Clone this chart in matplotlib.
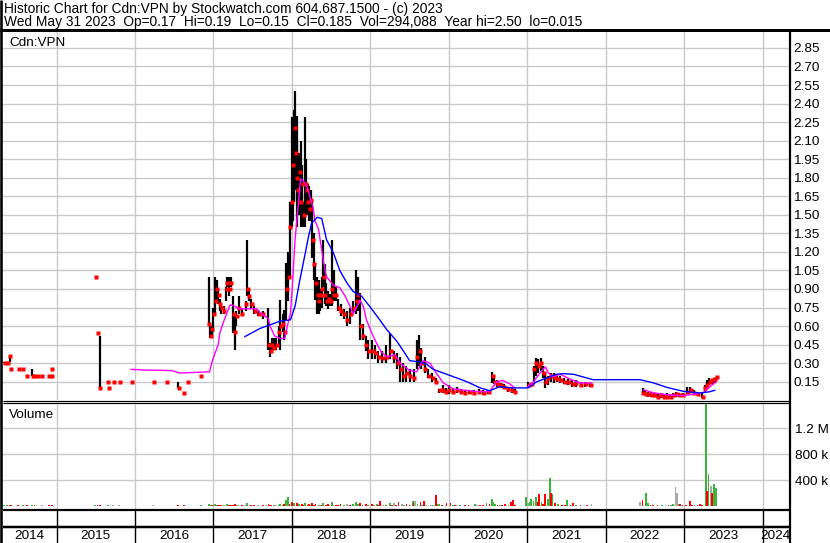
import matplotlib
matplotlib.use("Agg")
import matplotlib.pyplot as plt
from matplotlib.lines import Line2D
import numpy as np

plt.rcParams['font.family'] = ['Liberation Sans', 'DejaVu Sans']

# ---------------- data ----------------
header_line1 = "Historic Chart for Cdn:VPN by Stockwatch.com 604.687.1500 - (c) 2023"
header_line2 = ("Wed May 31 2023  Op=0.17  Hi=0.19  Lo=0.15  Cl=0.185  "
                "Vol=294,088  Year hi=2.50  lo=0.015")
symbol = "Cdn:VPN"
years = [2014, 2015, 2016, 2017, 2018, 2019, 2020, 2021, 2022, 2023, 2024]
price_ticks = [0.15, 0.30, 0.45, 0.60, 0.75, 0.90, 1.05, 1.20, 1.35, 1.50, 1.65,
               1.80, 1.95, 2.10, 2.25, 2.40, 2.55, 2.70, 2.85]
vol_ticks = [400_000, 800_000, 1_200_000]
vol_tick_labels = ["400 k", "800 k", "1.2 M"]

# (date, high, low, close)
bars_2014 = [(2014.33, 0.31, 0.30, 0.30), (2014.37, 0.31, 0.30, 0.30), (2014.40, 0.36, 0.31, 0.36),
             (2014.41, 0.25, 0.25, 0.25), (2014.51, 0.25, 0.25, 0.25), (2014.57, 0.25, 0.25, 0.25),
             (2014.62, 0.20, 0.20, 0.20), (2014.69, 0.25, 0.20, 0.20), (2014.72, 0.20, 0.20, 0.20),
             (2014.75, 0.20, 0.20, 0.20), (2014.81, 0.20, 0.20, 0.20), (2014.90, 0.20, 0.20, 0.20),
             (2014.93, 0.25, 0.25, 0.25), (2014.94, 0.20, 0.20, 0.20)]
bars_2015 = [(2015.49, 1.00, 1.00, 1.00), (2015.52, 0.54, 0.54, 0.54), (2015.55, 0.52, 0.10, 0.10),
             (2015.65, 0.15, 0.15, 0.15), (2015.66, 0.10, 0.10, 0.10), (2015.72, 0.15, 0.15, 0.15),
             (2015.80, 0.15, 0.15, 0.15), (2015.96, 0.15, 0.15, 0.15)]
bars_2016 = [(2016.23, 0.15, 0.15, 0.15), (2016.40, 0.15, 0.15, 0.15), (2016.55, 0.15, 0.10, 0.10),
             (2016.62, 0.055, 0.055, 0.055), (2016.67, 0.15, 0.15, 0.15), (2016.84, 0.20, 0.20, 0.20)]
bars_2017 = [(2016.94, 1.00, 0.60, 0.62), (2016.96, 0.62, 0.50, 0.52), (2016.98, 0.60, 0.52, 0.58),
             (2017.00, 0.75, 0.55, 0.70), (2017.02, 1.00, 0.70, 0.80), (2017.04, 0.97, 0.81, 0.90),
             (2017.06, 0.90, 0.78, 0.85), (2017.08, 0.82, 0.72, 0.78), (2017.10, 0.78, 0.70, 0.75),
             (2017.13, 0.76, 0.70, 0.72), (2017.16, 0.92, 0.80, 0.90), (2017.17, 1.00, 0.92, 0.95),
             (2017.20, 1.00, 0.84, 0.90), (2017.22, 1.00, 0.92, 0.95), (2017.25, 0.84, 0.54, 0.70),
             (2017.27, 0.70, 0.41, 0.55), (2017.29, 0.72, 0.60, 0.68), (2017.32, 0.84, 0.70, 0.75),
             (2017.36, 0.74, 0.68, 0.70), (2017.41, 0.80, 0.72, 0.78), (2017.43, 1.30, 0.84, 0.90),
             (2017.45, 0.90, 0.80, 0.84), (2017.48, 0.82, 0.75, 0.78), (2017.52, 0.76, 0.70, 0.72),
             (2017.57, 0.72, 0.68, 0.70), (2017.63, 0.72, 0.66, 0.70), (2017.70, 0.75, 0.41, 0.45),
             (2017.72, 0.46, 0.35, 0.40), (2017.74, 0.50, 0.38, 0.45), (2017.77, 0.50, 0.41, 0.42),
             (2017.80, 0.50, 0.41, 0.45), (2017.83, 0.60, 0.45, 0.55), (2017.85, 0.81, 0.41, 0.60),
             (2017.88, 0.70, 0.55, 0.62), (2017.90, 0.73, 0.49, 0.55), (2017.93, 1.11, 0.65, 0.90),
             (2017.95, 1.20, 0.80, 1.00), (2017.97, 1.60, 1.00, 1.40)]
bars_2018 = [(2018.00, 2.29, 1.40, 1.60), (2018.01, 2.10, 1.45, 1.90), (2018.03, 2.35, 1.60, 2.20),
             (2018.04, 2.50, 1.70, 2.00), (2018.06, 2.30, 1.60, 1.80), (2018.07, 2.10, 1.40, 1.70),
             (2018.09, 2.00, 1.50, 1.85), (2018.11, 2.10, 1.40, 1.60), (2018.13, 1.90, 1.40, 1.75),
             (2018.15, 1.60, 1.40, 1.50), (2018.17, 2.29, 1.40, 1.75), (2018.18, 1.95, 1.50, 1.70),
             (2018.20, 1.75, 1.50, 1.60), (2018.22, 1.73, 1.45, 1.55), (2018.24, 1.70, 1.45, 1.62),
             (2018.26, 1.60, 1.15, 1.30), (2018.28, 1.35, 0.97, 1.10), (2018.30, 1.11, 0.81, 0.95),
             (2018.32, 1.00, 0.70, 0.85), (2018.34, 0.97, 0.70, 0.80), (2018.36, 0.90, 0.72, 0.85),
             (2018.38, 1.00, 0.75, 0.90), (2018.40, 1.30, 0.92, 1.00), (2018.42, 1.10, 0.78, 0.85),
             (2018.44, 0.95, 0.76, 0.80), (2018.46, 0.88, 0.74, 0.82), (2018.49, 0.86, 0.76, 0.80),
             (2018.51, 1.30, 0.76, 0.90), (2018.53, 1.05, 0.80, 0.85), (2018.56, 0.92, 0.80, 0.85),
             (2018.59, 0.82, 0.72, 0.75), (2018.62, 0.78, 0.68, 0.72), (2018.66, 0.74, 0.66, 0.70),
             (2018.70, 0.72, 0.60, 0.65), (2018.74, 0.75, 0.62, 0.70), (2018.78, 0.80, 0.70, 0.75),
             (2018.82, 1.05, 0.70, 0.80), (2018.84, 1.00, 0.72, 0.85), (2018.87, 0.87, 0.49, 0.60),
             (2018.90, 0.62, 0.49, 0.52), (2018.94, 0.52, 0.40, 0.45), (2018.97, 0.49, 0.33, 0.40)]
bars_2019 = [(2019.02, 0.49, 0.33, 0.40), (2019.06, 0.45, 0.33, 0.38), (2019.10, 0.40, 0.30, 0.35),
             (2019.15, 0.40, 0.30, 0.34), (2019.20, 0.45, 0.30, 0.35), (2019.25, 0.54, 0.33, 0.40),
             (2019.30, 0.40, 0.30, 0.35), (2019.34, 0.38, 0.25, 0.30), (2019.38, 0.35, 0.15, 0.25),
             (2019.42, 0.30, 0.15, 0.20), (2019.46, 0.28, 0.15, 0.22), (2019.50, 0.25, 0.15, 0.20),
             (2019.55, 0.25, 0.15, 0.18), (2019.59, 0.49, 0.25, 0.35), (2019.62, 0.53, 0.28, 0.40),
             (2019.65, 0.42, 0.25, 0.30), (2019.69, 0.35, 0.22, 0.25), (2019.74, 0.25, 0.18, 0.20),
             (2019.79, 0.22, 0.15, 0.18), (2019.83, 0.18, 0.14, 0.15), (2019.88, 0.09, 0.06, 0.08),
             (2019.92, 0.12, 0.06, 0.08), (2019.96, 0.10, 0.05, 0.07)]
bars_2020 = [(2020.00, 0.12, 0.05, 0.08), (2020.05, 0.10, 0.05, 0.07), (2020.10, 0.11, 0.06, 0.08),
             (2020.15, 0.09, 0.05, 0.07), (2020.20, 0.085, 0.045, 0.06), (2020.26, 0.08, 0.05, 0.07),
             (2020.32, 0.085, 0.05, 0.06), (2020.38, 0.09, 0.05, 0.07), (2020.44, 0.08, 0.045, 0.06),
             (2020.50, 0.08, 0.05, 0.07), (2020.55, 0.23, 0.14, 0.20), (2020.58, 0.20, 0.13, 0.15),
             (2020.62, 0.16, 0.11, 0.13), (2020.66, 0.14, 0.10, 0.12), (2020.70, 0.13, 0.10, 0.11),
             (2020.75, 0.11, 0.07, 0.09), (2020.80, 0.10, 0.06, 0.08), (2020.84, 0.09, 0.06, 0.07)]
bars_2021 = [(2021.01, 0.15, 0.11, 0.12), (2021.05, 0.14, 0.11, 0.13), (2021.08, 0.28, 0.15, 0.25),
             (2021.11, 0.34, 0.20, 0.30), (2021.14, 0.33, 0.22, 0.28), (2021.17, 0.34, 0.24, 0.30),
             (2021.20, 0.28, 0.18, 0.22), (2021.23, 0.23, 0.10, 0.15), (2021.26, 0.20, 0.12, 0.18),
             (2021.30, 0.22, 0.15, 0.20), (2021.34, 0.22, 0.14, 0.18), (2021.38, 0.20, 0.15, 0.17),
             (2021.42, 0.20, 0.14, 0.16), (2021.47, 0.18, 0.13, 0.15), (2021.52, 0.17, 0.12, 0.15),
             (2021.57, 0.16, 0.11, 0.13), (2021.62, 0.16, 0.11, 0.14), (2021.68, 0.15, 0.11, 0.12),
             (2021.74, 0.15, 0.11, 0.13), (2021.80, 0.14, 0.11, 0.12)]
bars_2022 = [(2022.47, 0.10, 0.05, 0.06), (2022.50, 0.08, 0.04, 0.05), (2022.54, 0.07, 0.03, 0.05),
             (2022.58, 0.07, 0.03, 0.04), (2022.62, 0.06, 0.03, 0.04), (2022.66, 0.06, 0.02, 0.03),
             (2022.70, 0.06, 0.02, 0.04), (2022.74, 0.05, 0.02, 0.03), (2022.78, 0.06, 0.02, 0.03),
             (2022.82, 0.05, 0.02, 0.03), (2022.86, 0.06, 0.03, 0.04), (2022.90, 0.07, 0.03, 0.05),
             (2022.94, 0.06, 0.03, 0.04), (2022.98, 0.06, 0.03, 0.04)]
bars_2023 = [(2023.04, 0.11, 0.05, 0.07), (2023.08, 0.11, 0.06, 0.08), (2023.12, 0.08, 0.05, 0.06),
             (2023.17, 0.07, 0.04, 0.05), (2023.23, 0.06, 0.015, 0.03), (2023.26, 0.12, 0.06, 0.10),
             (2023.29, 0.16, 0.09, 0.12), (2023.32, 0.18, 0.12, 0.15), (2023.35, 0.17, 0.13, 0.16),
             (2023.38, 0.18, 0.14, 0.17), (2023.41, 0.19, 0.15, 0.185)]

# short moving average (magenta), in segments
ma_short_1 = [(2015.95, 0.25), (2016.10, 0.245), (2016.47, 0.24), (2016.57, 0.22), (2016.95, 0.23),
              (2016.98, 0.31), (2017.02, 0.38), (2017.06, 0.45), (2017.08, 0.54), (2017.12, 0.62),
              (2017.21, 0.77), (2017.24, 0.77), (2017.32, 0.74), (2017.42, 0.74), (2017.55, 0.74),
              (2017.61, 0.70), (2017.70, 0.66), (2017.72, 0.60), (2017.78, 0.52), (2017.85, 0.50),
              (2017.91, 0.50), (2017.93, 0.57), (2017.98, 0.70), (2018.01, 0.97), (2018.04, 1.30),
              (2018.07, 1.51), (2018.11, 1.79), (2018.14, 1.78), (2018.19, 1.73), (2018.24, 1.62),
              (2018.27, 1.56), (2018.29, 1.46), (2018.34, 1.38), (2018.40, 1.13), (2018.44, 1.00),
              (2018.53, 0.93), (2018.61, 0.91), (2018.68, 0.84), (2018.74, 0.76), (2018.78, 0.70),
              (2018.83, 0.76), (2018.87, 0.81), (2018.91, 0.76), (2018.95, 0.65), (2019.02, 0.54),
              (2019.08, 0.46), (2019.14, 0.39), (2019.21, 0.35), (2019.31, 0.37), (2019.38, 0.30),
              (2019.50, 0.24), (2019.59, 0.23), (2019.67, 0.32), (2019.76, 0.30), (2019.85, 0.21),
              (2019.93, 0.14), (2020.06, 0.09), (2020.23, 0.08), (2020.36, 0.07), (2020.52, 0.07),
              (2020.61, 0.15), (2020.69, 0.16), (2020.78, 0.13), (2020.84, 0.10)]
ma_short_2 = [(2021.01, 0.11), (2021.08, 0.15), (2021.16, 0.22), (2021.23, 0.27), (2021.27, 0.22),
              (2021.33, 0.19), (2021.42, 0.21), (2021.55, 0.17), (2021.67, 0.14), (2021.82, 0.14)]
ma_short_3 = [(2022.48, 0.085), (2022.61, 0.06), (2022.78, 0.045), (2022.99, 0.037),
              (2023.24, 0.06), (2023.31, 0.10), (2023.41, 0.15)]

# long moving average (blue)
ma_long = [(2017.40, 0.515), (2017.59, 0.58), (2017.72, 0.61), (2017.85, 0.64), (2017.98, 0.65),
           (2018.04, 0.76), (2018.10, 0.97), (2018.17, 1.19), (2018.21, 1.32), (2018.25, 1.43),
           (2018.32, 1.48), (2018.38, 1.47), (2018.44, 1.30), (2018.53, 1.19), (2018.61, 1.05),
           (2018.70, 0.95), (2018.78, 0.88), (2018.89, 0.84), (2018.99, 0.76), (2019.12, 0.65),
           (2019.21, 0.57), (2019.34, 0.475), (2019.44, 0.38), (2019.50, 0.32), (2019.63, 0.31),
           (2019.72, 0.29), (2019.80, 0.25), (2019.93, 0.22), (2020.06, 0.19), (2020.23, 0.15),
           (2020.40, 0.10), (2020.52, 0.077), (2020.65, 0.11), (2020.82, 0.10), (2021.01, 0.10),
           (2021.12, 0.15), (2021.25, 0.18), (2021.37, 0.21), (2021.46, 0.215), (2021.59, 0.21),
           (2021.76, 0.18), (2021.84, 0.166), (2022.44, 0.166), (2022.61, 0.14), (2022.78, 0.104),
           (2022.99, 0.072), (2023.20, 0.059), (2023.31, 0.067), (2023.39, 0.08)]

# volume: (date, shares, colour code g=up r=down n=unchanged)
vol_2014 = [(2014.33, 25e3, 'g'), (2014.37, 20e3, 'g'), (2014.40, 15e3, 'r'), (2014.42, 20e3, 'r'),
            (2014.51, 20e3, 'r'), (2014.57, 20e3, 'g'), (2014.62, 15e3, 'r'), (2014.69, 20e3, 'g'),
            (2014.72, 15e3, 'r'), (2014.81, 20e3, 'n'), (2014.90, 15e3, 'r'), (2014.94, 20e3, 'r')]
vol_2015 = [(2015.49, 20e3, 'g'), (2015.52, 25e3, 'r'), (2015.55, 25e3, 'r'), (2015.66, 15e3, 'g'),
            (2015.72, 15e3, 'n'), (2015.80, 15e3, 'n'), (2015.96, 10e3, 'n')]
vol_2016 = [(2016.23, 15e3, 'n'), (2016.40, 12e3, 'n'), (2016.55, 15e3, 'r'), (2016.62, 20e3, 'r'),
            (2016.67, 10e3, 'n'), (2016.84, 15e3, 'g')]
vol_2017 = [(2016.94, 30e3, 'g'), (2016.96, 20e3, 'g'), (2016.98, 25e3, 'r'), (2017.00, 15e3, 'g'),
            (2017.02, 35e3, 'g'), (2017.04, 20e3, 'g'), (2017.06, 25e3, 'r'), (2017.08, 15e3, 'r'),
            (2017.10, 20e3, 'r'), (2017.13, 15e3, 'g'), (2017.17, 30e3, 'g'), (2017.20, 15e3, 'r'),
            (2017.22, 20e3, 'r'), (2017.25, 25e3, 'r'), (2017.27, 35e3, 'r'), (2017.30, 15e3, 'n'),
            (2017.32, 25e3, 'g'), (2017.36, 15e3, 'r'), (2017.40, 20e3, 'n'), (2017.43, 45e3, 'g'),
            (2017.46, 15e3, 'n'), (2017.48, 20e3, 'r'), (2017.52, 15e3, 'r'), (2017.57, 15e3, 'n'),
            (2017.63, 20e3, 'r'), (2017.67, 15e3, 'n'), (2017.70, 35e3, 'r'), (2017.72, 20e3, 'r'),
            (2017.74, 25e3, 'r'), (2017.77, 15e3, 'g'), (2017.80, 20e3, 'n'), (2017.83, 25e3, 'g'),
            (2017.85, 40e3, 'g'), (2017.88, 20e3, 'g'), (2017.90, 30e3, 'r'), (2017.92, 95e3, 'g'),
            (2017.95, 148e3, 'g'), (2017.97, 40e3, 'r')]
vol_2018 = [(2018.00, 60e3, 'r'), (2018.02, 30e3, 'g'), (2018.03, 45e3, 'g'), (2018.06, 55e3, 'r'),
            (2018.08, 25e3, 'r'), (2018.09, 35e3, 'g'), (2018.11, 20e3, 'n'), (2018.13, 40e3, 'r'),
            (2018.15, 25e3, 'r'), (2018.17, 50e3, 'g'), (2018.20, 20e3, 'r'), (2018.22, 30e3, 'r'),
            (2018.24, 20e3, 'g'), (2018.26, 45e3, 'r'), (2018.28, 25e3, 'r'), (2018.30, 35e3, 'r'),
            (2018.33, 20e3, 'n'), (2018.36, 25e3, 'g'), (2018.38, 20e3, 'r'), (2018.40, 45e3, 'g'),
            (2018.43, 20e3, 'r'), (2018.46, 30e3, 'r'), (2018.48, 15e3, 'n'), (2018.51, 60e3, 'g'),
            (2018.53, 25e3, 'g'), (2018.56, 25e3, 'r'), (2018.59, 20e3, 'r'), (2018.62, 35e3, 'r'),
            (2018.66, 15e3, 'g'), (2018.70, 30e3, 'n'), (2018.74, 20e3, 'r'), (2018.78, 40e3, 'g'),
            (2018.82, 65e3, 'g'), (2018.84, 30e3, 'g'), (2018.87, 55e3, 'r'), (2018.90, 25e3, 'r'),
            (2018.94, 30e3, 'r'), (2018.97, 20e3, 'g')]
vol_2019 = [(2019.02, 35e3, 'r'), (2019.05, 20e3, 'g'), (2019.08, 30e3, 'g'), (2019.10, 20e3, 'r'),
            (2019.12, 80e3, 'r'), (2019.16, 25e3, 'n'), (2019.20, 20e3, 'g'), (2019.25, 55e3, 'g'),
            (2019.28, 25e3, 'r'), (2019.30, 50e3, 'n'), (2019.33, 20e3, 'r'), (2019.36, 60e3, 'r'),
            (2019.40, 40e3, 'n'), (2019.43, 20e3, 'g'), (2019.46, 30e3, 'r'), (2019.50, 15e3, 'r'),
            (2019.54, 82e3, 'g'), (2019.57, 82e3, 'n'), (2019.55, 46e3, 'r'), (2019.60, 30e3, 'g'),
            (2019.64, 60e3, 'r'), (2019.66, 25e3, 'g'), (2019.68, 82e3, 'r'), (2019.71, 20e3, 'n'),
            (2019.74, 15e3, 'n'), (2019.77, 20e3, 'n'), (2019.80, 25e3, 'g'), (2019.84, 175e3, 'r'),
            (2019.86, 30e3, 'g'), (2019.88, 30e3, 'g'), (2019.91, 15e3, 'r'), (2019.97, 46e3, 'r')]
vol_2020 = [(2020.02, 46e3, 'r'), (2020.05, 15e3, 'g'), (2020.08, 20e3, 'r'), (2020.10, 25e3, 'n'),
            (2020.14, 15e3, 'g'), (2020.18, 10e3, 'r'), (2020.21, 20e3, 'r'), (2020.25, 15e3, 'r'),
            (2020.29, 10e3, 'n'), (2020.33, 30e3, 'g'), (2020.36, 20e3, 'n'), (2020.40, 15e3, 'r'),
            (2020.44, 20e3, 'r'), (2020.48, 46e3, 'g'), (2020.52, 30e3, 'r'), (2020.55, 112e3, 'g'),
            (2020.57, 60e3, 'g'), (2020.59, 35e3, 'g'), (2020.62, 25e3, 'r'), (2020.65, 20e3, 'g'),
            (2020.68, 15e3, 'r'), (2020.72, 35e3, 'r'), (2020.76, 25e3, 'g'), (2020.79, 70e3, 'r'),
            (2020.82, 90e3, 'r'), (2020.84, 25e3, 'r')]
vol_2021 = [(2020.98, 147e3, 'g'), (2021.01, 46e3, 'n'), (2021.03, 60e3, 'g'), (2021.05, 110e3, 'g'),
            (2021.08, 82e3, 'g'), (2021.11, 147e3, 'g'), (2021.13, 70e3, 'r'), (2021.15, 190e3, 'r'),
            (2021.18, 70e3, 'g'), (2021.20, 40e3, 'r'), (2021.23, 182e3, 'r'), (2021.26, 118e3, 'g'),
            (2021.29, 440e3, 'g'), (2021.30, 207e3, 'r'), (2021.32, 182e3, 'g'), (2021.35, 46e3, 'r'),
            (2021.39, 35e3, 'g'), (2021.44, 25e3, 'r'), (2021.48, 20e3, 'r'), (2021.51, 90e3, 'g'),
            (2021.55, 20e3, 'r'), (2021.58, 46e3, 'r'), (2021.62, 15e3, 'g'), (2021.65, 10e3, 'n'),
            (2021.68, 15e3, 'r'), (2021.72, 10e3, 'n'), (2021.76, 15e3, 'r'), (2021.82, 35e3, 'n')]
vol_2022 = [(2022.44, 72e3, 'n'), (2022.47, 95e3, 'r'), (2022.51, 210e3, 'g'), (2022.54, 55e3, 'g'),
            (2022.57, 25e3, 'r'), (2022.60, 20e3, 'r'), (2022.63, 10e3, 'r'), (2022.66, 15e3, 'r'),
            (2022.69, 10e3, 'n'), (2022.72, 15e3, 'g'), (2022.76, 10e3, 'r'), (2022.80, 20e3, 'r'),
            (2022.83, 15e3, 'g'), (2022.86, 35e3, 'g'), (2022.89, 292e3, 'n'), (2022.91, 200e3, 'n'),
            (2022.93, 40e3, 'g'), (2022.95, 30e3, 'r'), (2022.98, 15e3, 'r')]
vol_2023 = [(2023.02, 20e3, 'r'), (2023.07, 78e3, 'r'), (2023.10, 15e3, 'r'), (2023.13, 20e3, 'g'),
            (2023.17, 15e3, 'r'), (2023.20, 30e3, 'r'), (2023.23, 20e3, 'r'), (2023.28, 1_570e3, 'g'),
            (2023.29, 230e3, 'r'), (2023.31, 497e3, 'g'), (2023.34, 320e3, 'n'), (2023.355, 200e3, 'r'),
            (2023.38, 340e3, 'g'), (2023.41, 280e3, 'g')]

# ---------------- figure ----------------
W, H = 830, 543
fig = plt.figure(figsize=(W / 100, H / 100), dpi=100)
fig.patch.set_facecolor('white')

X0, X1 = 3, 789           # plot area in pixels
XMIN, XMAX = 2014.317, 2024.336
GRID = '#c8c8c8'
FS = 9.7
FS_HEAD = 9.9


def ax_px(x0, y0, x1, y1):
    return fig.add_axes([x0 / W, 1 - y1 / H, (x1 - x0) / W, (y1 - y0) / H])


def clean(ax):
    for s in ax.spines.values():
        s.set_visible(False)
    ax.set_xlim(XMIN, XMAX)
    ax.set_xticks([])


boundaries = years[1:]

# price panel
axp = ax_px(X0, 31.5, X1, 400)
clean(axp)
axp.set_ylim(0.002, 2.983)
axp.yaxis.tick_right()
axp.set_yticks(price_ticks)
axp.set_yticklabels([f"{t:.2f}" for t in price_ticks], fontsize=FS)
axp.tick_params(axis='y', length=0, pad=3)
for t in price_ticks:
    axp.axhline(t, color=GRID, lw=1, zorder=0)
for b in boundaries:
    axp.axvline(b, color=GRID, lw=1, zorder=0)

all_bars = (bars_2014 + bars_2015 + bars_2016 + bars_2017 + bars_2018 + bars_2019 +
            bars_2020 + bars_2021 + bars_2022 + bars_2023)
bd = np.array([b[0] for b in all_bars])
bh = np.array([b[1] for b in all_bars])
bl = np.array([b[2] for b in all_bars])
bc = np.array([b[3] for b in all_bars])
axp.vlines(bd, bl, bh, color='black', lw=1.6, zorder=3)
axp.plot(bd + 0.007, bc, ls='none', marker='s', ms=2.4, mfc='#ff0000', mec='none', zorder=4)

for seg in (ma_short_1, ma_short_2, ma_short_3):
    axp.plot([p[0] for p in seg], [p[1] for p in seg], color='#ff00ff', lw=1.0, zorder=5)
axp.plot([p[0] for p in ma_long], [p[1] for p in ma_long], color='#0000ff', lw=1.0, zorder=5)
axp.text(0.008, 0.985, symbol, transform=axp.transAxes, fontsize=FS, va='top', ha='left')

# volume panel
axv = ax_px(X0, 402, X1, 509)
clean(axv)
axv.set_ylim(-41_500, 1_605_000)
axv.yaxis.tick_right()
axv.set_yticks(vol_ticks)
axv.set_yticklabels(vol_tick_labels, fontsize=FS)
axv.tick_params(axis='y', length=0, pad=4)
for t in vol_ticks:
    axv.axhline(t, color=GRID, lw=1, zorder=0)
for b in boundaries:
    axv.axvline(b, color=GRID, lw=1, zorder=0)
all_vol = (vol_2014 + vol_2015 + vol_2016 + vol_2017 + vol_2018 + vol_2019 +
           vol_2020 + vol_2021 + vol_2022 + vol_2023)
vcol = {'g': '#3cb43c', 'r': '#ff0000', 'n': '#a8a8a8'}
axv.bar([v[0] for v in all_vol], [v[1] for v in all_vol], width=0.022, bottom=0,
        color=[vcol[v[2]] for v in all_vol], linewidth=0, zorder=3)
axv.text(0.007, 0.93, "Volume", transform=axv.transAxes, fontsize=FS, va='top', ha='left')

# blank strip
axs = ax_px(X0, 509, X1, 526)
clean(axs)
axs.set_yticks([])
for b in boundaries:
    axs.axvline(b, color='black', lw=1)

# year label row
axy = ax_px(X0, 526, X1, 543)
clean(axy)
axy.set_yticks([])
axy.set_ylim(0, 1)
for b in boundaries:
    axy.axvline(b, color='black', lw=1)
for y in years:
    lo, hi = max(y, XMIN), min(y + 1, XMAX)
    axy.text((lo + hi) / 2, 0.42, str(y), ha='center', va='center', fontsize=FS)

# frame overlay in pixel space
ov = fig.add_axes([0, 0, 1, 1], facecolor='none')
ov.set_xlim(0, W)
ov.set_ylim(H, 0)
ov.axis('off')
lines = [
    ((0, W), (30, 30), 3.0),
    ((X0, X1), (400.5, 400.5), 1.2),
    ((X0, X1), (402.5, 402.5), 1.2),
    ((X0, X1), (509.5, 509.5), 2.2),
    ((X0, X1), (526.5, 526.5), 2.5),
    ((X1 + 0.5, X1 + 0.5), (30, H), 2.2),
    ((1.2, 1.2), (0, H), 2.6),
]
for xs, ys, lw in lines:
    ov.add_line(Line2D(xs, ys, color='black', lw=lw * 0.72, solid_capstyle='butt'))

fig.text(3.5 / W, 1 - 9 / H, header_line1, fontsize=FS_HEAD, va='center', ha='left')
fig.text(3.5 / W, 1 - 22 / H, header_line2, fontsize=FS_HEAD, va='center', ha='left')

fig.savefig("out.png", dpi=100)
